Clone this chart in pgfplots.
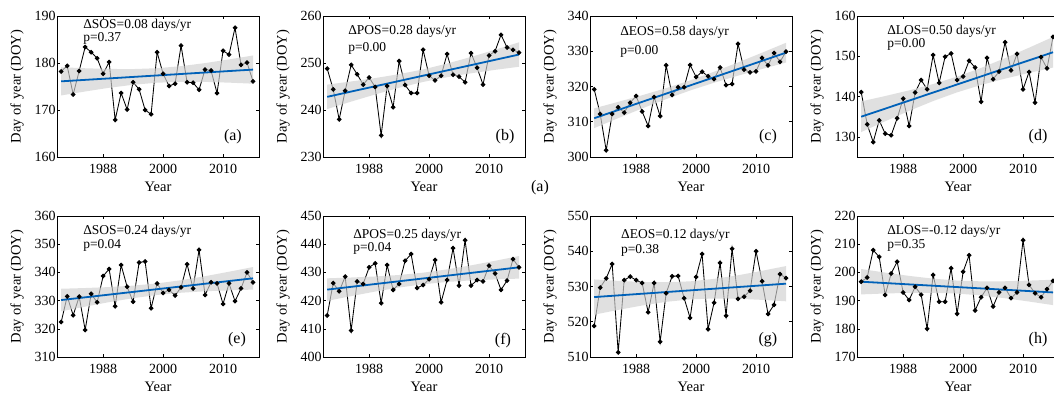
\documentclass[border=0pt]{standalone}
\usepackage{pgfplots}
\pgfplotsset{compat=1.18}
\usepackage{fontspec}
\setmainfont{Liberation Serif}
\definecolor{trendblue}{rgb}{0,0.38,0.72}
\pgfplotsset{
  panel/.style={
    scale only axis, width=202pt, height=141pt,
    xmin=1982.3, xmax=2016,
    xtick={1990,2000,2010}, xticklabels={1988,2000,2010},
    tick align=inside, major tick length=3pt,
    axis line style={line width=0.8pt},
    every tick/.style={black, line width=0.6pt},
    /pgf/number format/assume math mode=true,
    ticklabel style={font=\fontsize{14}{15}\selectfont},
    yticklabel style={inner sep=1.2pt},
    xticklabel style={yshift=-3.5pt},
    xlabel={Year}, ylabel={Day of year (DOY)},
    label style={font=\fontsize{14.5}{15}\selectfont},
    xlabel style={at={(axis description cs:0.5,-0.243)}, anchor=base},
    ylabel style={at={(axis description cs:-0.198,0.5)}, anchor=center},
    clip=false,
  },
  dat/.style={black, line width=0.85pt, mark=*, mark size=1.9pt, mark options={solid, fill=black}},
  band/.style={draw=none, fill=black!18, fill opacity=0.66, forget plot},
  trend/.style={trendblue, line width=1.8pt, no marks},
}
\newcommand{\ann}[5]{%
  \node[anchor=west, inner sep=0pt, font=\fontsize{13.5}{14}\selectfont] at (axis description cs:#1,#2) {#4};
  \node[anchor=west, inner sep=0pt, font=\fontsize{13.5}{14}\selectfont] at (axis description cs:#1,#3) {#5};}
\newcommand{\plab}[3]{\node[anchor=center, inner sep=0pt, font=\fontsize{16}{17}\selectfont] at (axis description cs:#1,#2) {#3};}
\begin{document}
\begin{tikzpicture}
\path[use as bounding box] (0,0) rectangle (1054pt,394pt);
\clip (0,0) rectangle (1054pt,394pt);
\fill[white] (0,0) rectangle (1054pt,394pt);
% (a)
\begin{axis}[panel, at={(57pt,237pt)}, ymin=160, ymax=190, ytick={160,170,180,190}]
\addplot[dat] coordinates {(1983,178.2)(1984,179.4)(1985,173.3)(1986,178.3)(1987,183.4)(1988,182.3)(1989,181.0)(1990,177.7)(1991,180.2)(1992,167.9)(1993,173.6)(1994,170.1)(1995,175.9)(1996,174.4)(1997,170.0)(1998,169.1)(1999,182.3)(2000,177.7)(2001,175.1)(2002,175.6)(2003,183.7)(2004,175.9)(2005,175.8)(2006,174.3)(2007,178.6)(2008,178.4)(2009,173.6)(2010,182.6)(2011,181.8)(2012,187.5)(2013,179.6)(2014,180.1)(2015,176.1)};
\addplot[band] coordinates {(1983,179.10)(1987,178.88)(1991,178.73)(1995,178.71)(1999,178.89)(2003,179.33)(2007,179.98)(2011,180.76)(2015,181.60)(2015,175.60)(2011,175.82)(2007,175.98)(2003,175.99)(1999,175.81)(1995,175.37)(1991,174.73)(1987,173.94)(1983,173.10)} -- cycle;
\addplot[trend] coordinates {(1983,176.1)(2015,178.6)};
\ann{0.129}{0.936}{0.844}{ΔSOS=0.08 days/yr}{p=0.37}
\plab{0.871}{0.142}{(a)}
\end{axis}
% (b)
\begin{axis}[panel, at={(323pt,237pt)}, ymin=230, ymax=260, ytick={230,240,250,260}]
\addplot[dat] coordinates {(1983,248.8)(1984,244.4)(1985,238.0)(1986,244.1)(1987,249.6)(1988,247.6)(1989,245.4)(1990,246.9)(1991,244.9)(1992,234.6)(1993,245.1)(1994,240.6)(1995,250.4)(1996,245.3)(1997,243.6)(1998,243.6)(1999,252.8)(2000,247.3)(2001,246.3)(2002,247.3)(2003,251.9)(2004,247.5)(2005,247.1)(2006,245.9)(2007,252.1)(2008,249.0)(2009,245.4)(2010,251.6)(2011,252.5)(2012,256.0)(2013,253.3)(2014,252.8)(2015,252.2)};
\addplot[band] coordinates {(1983,245.40)(1987,246.07)(1991,246.79)(1995,247.63)(1999,248.63)(2003,249.88)(2007,251.29)(2011,252.82)(2015,254.40)(2015,249.20)(2011,248.54)(2007,247.81)(2003,246.98)(1999,245.97)(1995,244.73)(1991,243.31)(1987,241.79)(1983,240.20)} -- cycle;
\addplot[trend] coordinates {(1983,242.8)(2015,251.8)};
\ann{0.124}{0.894}{0.773}{ΔPOS=0.28 days/yr}{p=0.00}
\plab{0.901}{0.142}{(b)}
\end{axis}
% (c)
\begin{axis}[panel, at={(590pt,237pt)}, ymin=300, ymax=340, ytick={300,310,320,330,340}]
\addplot[dat] coordinates {(1983,319.2)(1984,312.2)(1985,301.9)(1986,312.2)(1987,314.1)(1988,312.6)(1989,315.4)(1990,317.3)(1991,312.9)(1992,308.8)(1993,317.0)(1994,311.6)(1995,326.0)(1996,317.6)(1997,319.8)(1998,319.8)(1999,326.1)(2000,322.7)(2001,324.2)(2002,322.9)(2003,322.1)(2004,325.4)(2005,320.4)(2006,320.7)(2007,332.1)(2008,324.8)(2009,324.0)(2010,324.3)(2011,328.1)(2012,326.0)(2013,329.5)(2014,327.0)(2015,329.9)};
\addplot[band] coordinates {(1983,313.80)(1987,315.64)(1991,317.52)(1995,319.54)(1999,321.73)(2003,324.19)(2007,326.82)(2011,329.59)(2015,332.40)(2015,326.80)(2011,324.97)(2007,323.08)(2003,321.07)(1999,318.87)(1995,316.42)(1991,313.78)(1987,311.02)(1983,308.20)} -- cycle;
\addplot[trend] coordinates {(1983,311.0)(2015,329.6)};
\ann{0.149}{0.887}{0.752}{ΔEOS=0.58 days/yr}{p=0.00}
\plab{0.881}{0.142}{(c)}
\end{axis}
% (d)
\begin{axis}[panel, at={(857pt,237pt)}, ymin=125, ymax=160, ytick={130,140,150,160}]
\addplot[dat] coordinates {(1983,141.1)(1984,133.1)(1985,128.7)(1986,134.1)(1987,130.8)(1988,130.4)(1989,134.6)(1990,139.5)(1991,132.7)(1992,141.0)(1993,144.1)(1994,141.8)(1995,150.3)(1996,143.4)(1997,149.9)(1998,150.7)(1999,144.1)(2000,145.0)(2001,148.9)(2002,147.2)(2003,138.7)(2004,149.6)(2005,144.3)(2006,146.2)(2007,153.5)(2008,146.5)(2009,150.6)(2010,141.8)(2011,146.1)(2012,138.5)(2013,149.8)(2014,147.0)(2015,154.8)};
\addplot[band] coordinates {(1983,138.80)(1987,140.13)(1991,141.54)(1995,143.11)(1999,144.95)(2003,147.11)(2007,149.54)(2011,152.13)(2015,154.80)(2015,147.20)(2011,145.87)(2007,144.46)(2003,142.89)(1999,141.05)(1995,138.89)(1991,136.46)(1987,133.87)(1983,131.20)} -- cycle;
\addplot[trend] coordinates {(1983,135.0)(2015,151.0)};
\ann{0.149}{0.894}{0.801}{ΔLOS=0.50 days/yr}{p=0.00}
\plab{0.896}{0.142}{(d)}
\end{axis}
% (e)
\begin{axis}[panel, at={(57pt,37pt)}, ymin=310, ymax=360, ytick={310,320,330,340,350,360}]
\addplot[dat] coordinates {(1983,322.4)(1984,331.5)(1985,324.8)(1986,331.4)(1987,319.6)(1988,332.4)(1989,329.4)(1990,338.7)(1991,341.2)(1992,328.0)(1993,342.6)(1994,334.9)(1995,329.6)(1996,343.5)(1997,343.9)(1998,327.3)(1999,336.1)(2000,332.7)(2001,333.8)(2002,331.8)(2003,334.7)(2004,342.9)(2005,334.3)(2006,348.0)(2007,332.0)(2008,336.5)(2009,336.1)(2010,328.8)(2011,336.1)(2012,329.8)(2013,334.3)(2014,340.0)(2015,336.5)};
\addplot[band] coordinates {(1983,334.20)(1987,334.46)(1991,334.80)(1995,335.31)(1999,336.10)(2003,337.23)(2007,338.65)(2011,340.24)(2015,341.90)(2015,333.90)(2011,333.64)(2007,333.31)(2003,332.79)(1999,332.00)(1995,330.87)(1991,329.46)(1987,327.86)(1983,326.20)} -- cycle;
\addplot[trend] coordinates {(1983,330.2)(2015,337.9)};
\ann{0.129}{0.894}{0.794}{ΔSOS=0.24 days/yr}{p=0.04}
\plab{0.891}{0.12}{(e)}
\end{axis}
% (f)
\begin{axis}[panel, at={(323pt,37pt)}, ymin=400, ymax=450, ytick={400,410,420,430,440,450}]
\addplot[dat] coordinates {(1983,414.7)(1984,426.2)(1985,423.3)(1986,428.5)(1987,409.4)(1988,426.8)(1989,425.9)(1990,431.8)(1991,433.2)(1992,419.1)(1993,432.6)(1994,423.8)(1995,425.9)(1996,434.1)(1997,436.5)(1998,424.5)(1999,425.5)(2000,427.6)(2001,434.4)(2002,419.4)(2003,427.3)(2004,438.6)(2005,425.3)(2006,441.4)(2007,425.3)(2008,427.3)(2009,426.8)(2010,432.4)(2011,429.6)(2012,423.8)(2013,427.1)(2014,434.7)(2015,431.8)};
\addplot[band] coordinates {(1983,427.90)(1987,428.19)(1991,428.55)(1995,429.08)(1999,429.90)(2003,431.06)(2007,432.50)(2011,434.11)(2015,435.80)(2015,427.80)(2011,427.51)(2007,427.16)(2003,426.62)(1999,425.80)(1995,424.64)(1991,423.21)(1987,421.59)(1983,419.90)} -- cycle;
\addplot[trend] coordinates {(1983,423.9)(2015,431.8)};
\ann{0.149}{0.865}{0.773}{ΔPOS=0.25 days/yr}{p=0.04}
\plab{0.891}{0.12}{(f)}
\end{axis}
% (g)
\begin{axis}[panel, at={(590pt,37pt)}, ymin=510, ymax=550, ytick={510,520,530,540,550}]
\addplot[dat] coordinates {(1983,518.8)(1984,529.7)(1985,532.3)(1986,536.4)(1987,511.3)(1988,531.8)(1989,532.8)(1990,531.8)(1991,531.0)(1992,522.7)(1993,531.0)(1994,514.3)(1995,528.1)(1996,532.9)(1997,533.0)(1998,526.7)(1999,521.1)(2000,532.7)(2001,539.2)(2002,517.9)(2003,525.4)(2004,536.7)(2005,521.7)(2006,540.7)(2007,526.5)(2008,527.1)(2009,528.8)(2010,540.0)(2011,531.5)(2012,522.2)(2013,524.8)(2014,533.5)(2015,532.4)};
\addplot[band] coordinates {(1983,532.00)(1987,531.60)(1991,531.29)(1995,531.21)(1999,531.46)(2003,532.16)(2007,533.19)(2011,534.45)(2015,535.80)(2015,525.80)(2011,526.21)(2007,526.51)(2003,526.60)(1999,526.34)(1995,525.65)(1991,524.61)(1987,523.36)(1983,522.00)} -- cycle;
\addplot[trend] coordinates {(1983,527.0)(2015,530.8)};
\ann{0.153}{0.865}{0.759}{ΔEOS=0.12 days/yr}{p=0.38}
\plab{0.881}{0.12}{(g)}
\end{axis}
% (h)
\begin{axis}[panel, at={(857pt,37pt)}, ymin=170, ymax=220, ytick={170,180,190,200,210,220}]
\addplot[dat] coordinates {(1983,196.7)(1984,198.2)(1985,207.9)(1986,205.5)(1987,192.0)(1988,199.6)(1989,203.8)(1990,192.9)(1991,190.2)(1992,194.9)(1993,192.1)(1994,180.0)(1995,199.1)(1996,189.6)(1997,189.6)(1998,201.5)(1999,185.3)(2000,200.2)(2001,206.1)(2002,186.5)(2003,191.2)(2004,194.5)(2005,187.9)(2006,192.9)(2007,194.5)(2008,190.9)(2009,192.9)(2010,211.4)(2011,195.6)(2012,192.6)(2013,191.2)(2014,194.1)(2015,197.0)};
\addplot[band] coordinates {(1983,201.20)(1987,199.94)(1991,198.76)(1995,197.78)(1999,197.10)(2003,196.83)(2007,196.86)(2011,197.09)(2015,197.40)(2015,188.40)(2011,189.67)(2007,190.84)(2003,191.83)(1999,192.50)(1995,192.78)(1991,192.74)(1987,192.52)(1983,192.20)} -- cycle;
\addplot[trend] coordinates {(1983,196.7)(2015,192.9)};
\ann{0.149}{0.894}{0.794}{ΔLOS=-0.12 days/yr}{p=0.35}
\plab{0.896}{0.12}{(h)}
\end{axis}
\node[font=\fontsize{16}{17}\selectfont] at (540pt,206pt) {(a)};
\end{tikzpicture}
\end{document}
